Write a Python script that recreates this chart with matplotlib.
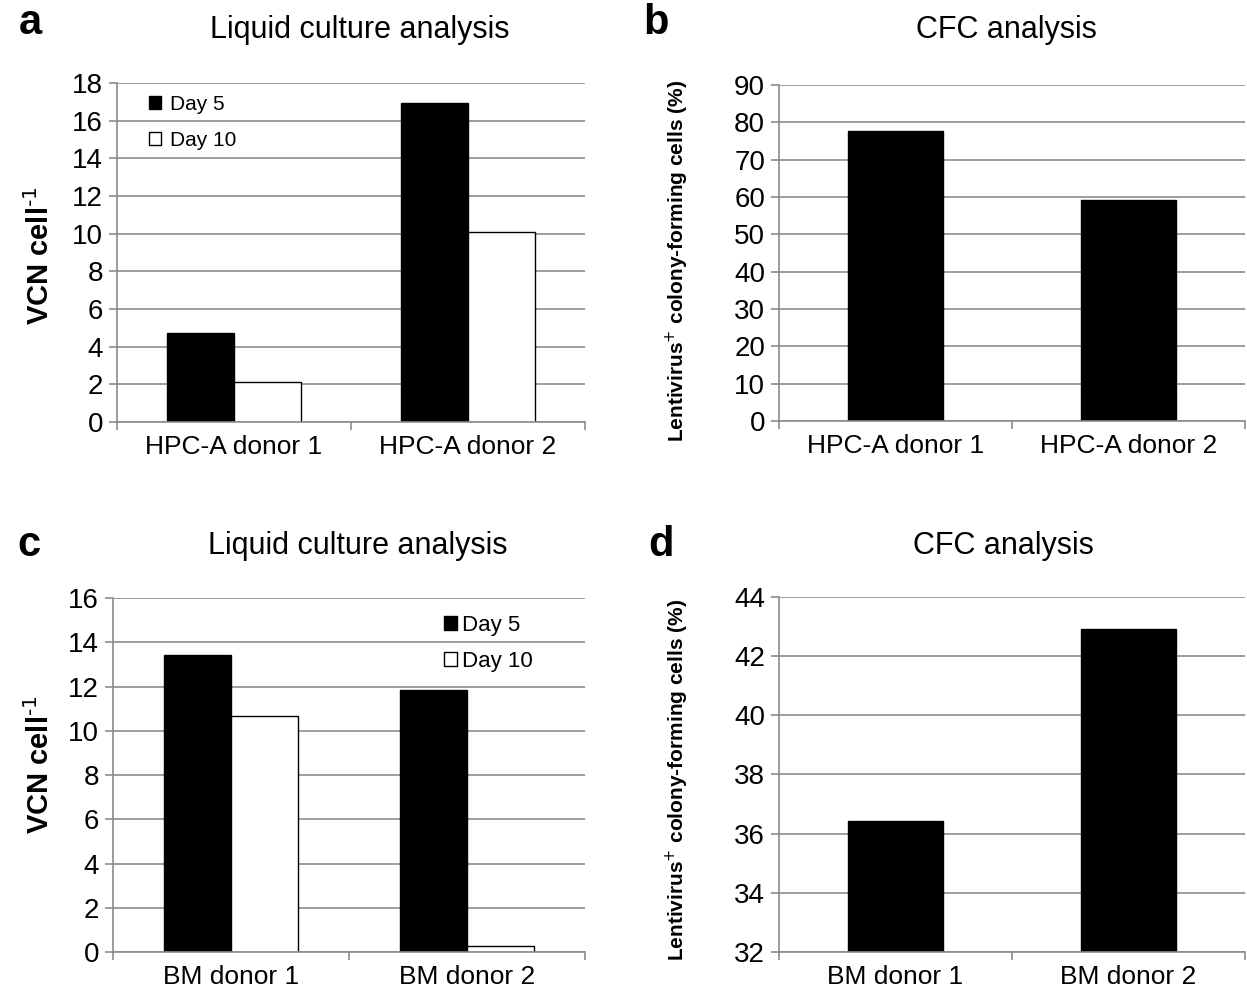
import numpy as np
import matplotlib.pyplot as plt

plt.rcParams['font.family'] = ['Liberation Sans', 'DejaVu Sans']

# data
hpc_donors = ["HPC-A donor 1", "HPC-A donor 2"]
hpc_day5 = [4.73, 16.95]
hpc_day10 = [2.12, 10.1]
hpc_cfc = [77.7, 59.2]

bm_donors = ["BM donor 1", "BM donor 2"]
bm_day5 = [13.42, 11.84]
bm_day10 = [10.66, 0.27]
bm_cfc = [36.42, 42.93]

gray = "#8c8c8c"

fig = plt.figure(figsize=(12.47, 9.89), dpi=100)
ax_a = fig.add_axes([0.0938, 0.5733, 0.3753, 0.3428])
ax_b = fig.add_axes([0.6247, 0.5743, 0.3737, 0.3397])
ax_c = fig.add_axes([0.0906, 0.0374, 0.3785, 0.3579])
ax_d = fig.add_axes([0.6247, 0.0374, 0.3737, 0.3590])


def style(ax, ymin, ymax, step, labels):
    ax.set_ylim(ymin, ymax)
    ax.set_xlim(-0.5, 1.5)
    ax.set_yticks(np.arange(ymin, ymax + step / 2, step))
    ax.yaxis.grid(True, color=gray, linewidth=1.2)
    ax.set_axisbelow(True)
    for s in ["top", "right"]:
        ax.spines[s].set_visible(False)
    for s in ["left", "bottom"]:
        ax.spines[s].set_color(gray)
        ax.spines[s].set_linewidth(1.2)
    ax.set_xticks([0, 1])
    ax.set_xticklabels(labels, fontsize=19)
    ax.set_xticks([-0.5, 0.5, 1.5], minor=True)
    ax.tick_params(axis="x", which="major", length=0, pad=9)
    ax.tick_params(axis="x", which="minor", length=6, color=gray, width=1.2)
    ax.tick_params(axis="y", length=6, color=gray, width=1.2, labelsize=20, pad=4)


x = np.arange(2)
w = 0.285
vcn_label = "VCN cell$^{\\text{-1}}$"
cfc_label = "Lentivirus$^{\\mathbf{\\text{+}}}$ colony-forming cells (%)"

# a
ax_a.bar(x - w / 2, hpc_day5, w, color="black", edgecolor="black", label="Day 5")
ax_a.bar(x + w / 2, hpc_day10, w, color="white", edgecolor="black", label="Day 10")
style(ax_a, 0, 18, 2, hpc_donors)
ax_a.set_ylabel(vcn_label, fontsize=21, fontweight="bold")
ax_a.yaxis.set_label_coords(-0.132, 0.49)
ax_a.legend(loc="upper left", bbox_to_anchor=(0.028, 1.02), frameon=False, fontsize=15,
            handlelength=0.6, handleheight=0.6, handletextpad=0.4, labelspacing=0.8)

# b
ax_b.bar(x, hpc_cfc, 0.41, color="black", edgecolor="black")
style(ax_b, 0, 90, 10, hpc_donors)
ax_b.set_ylabel(cfc_label, fontsize=15, fontweight="bold")
ax_b.yaxis.set_label_coords(-0.189, 0.475)

# c
ax_c.bar(x - w / 2, bm_day5, w, color="black", edgecolor="black", label="Day 5")
ax_c.bar(x + w / 2, bm_day10, w, color="white", edgecolor="black", label="Day 10")
style(ax_c, 0, 16, 2, bm_donors)
ax_c.set_ylabel(vcn_label, fontsize=21, fontweight="bold")
ax_c.yaxis.set_label_coords(-0.122, 0.53)
ax_c.legend(loc="upper left", bbox_to_anchor=(0.659, 1.01), frameon=False, fontsize=16,
            handlelength=0.6, handleheight=0.6, handletextpad=0.2, labelspacing=0.69)

# d
ax_d.bar(x, bm_cfc, 0.41, color="black", edgecolor="black")
style(ax_d, 32, 44, 2, bm_donors)
ax_d.set_ylabel(cfc_label, fontsize=15, fontweight="bold")
ax_d.yaxis.set_label_coords(-0.189, 0.485)

# titles
titles = ["Liquid culture analysis", "CFC analysis", "Liquid culture analysis", "CFC analysis"]
for t, (fx, fy) in zip(titles, [(0.2887, 0.9697), (0.8067, 0.9697), (0.2871, 0.448), (0.8043, 0.448)]):
    fig.text(fx, fy, t, fontsize=22, ha="center", va="center")

for lab, (fx, fy) in zip("abcd", [(0.024, 0.977), (0.526, 0.977), (0.023, 0.449), (0.530, 0.449)]):
    fig.text(fx, fy, lab, fontsize=30, fontweight="bold", ha="center", va="center")

plt.savefig("out.png", dpi=100)
